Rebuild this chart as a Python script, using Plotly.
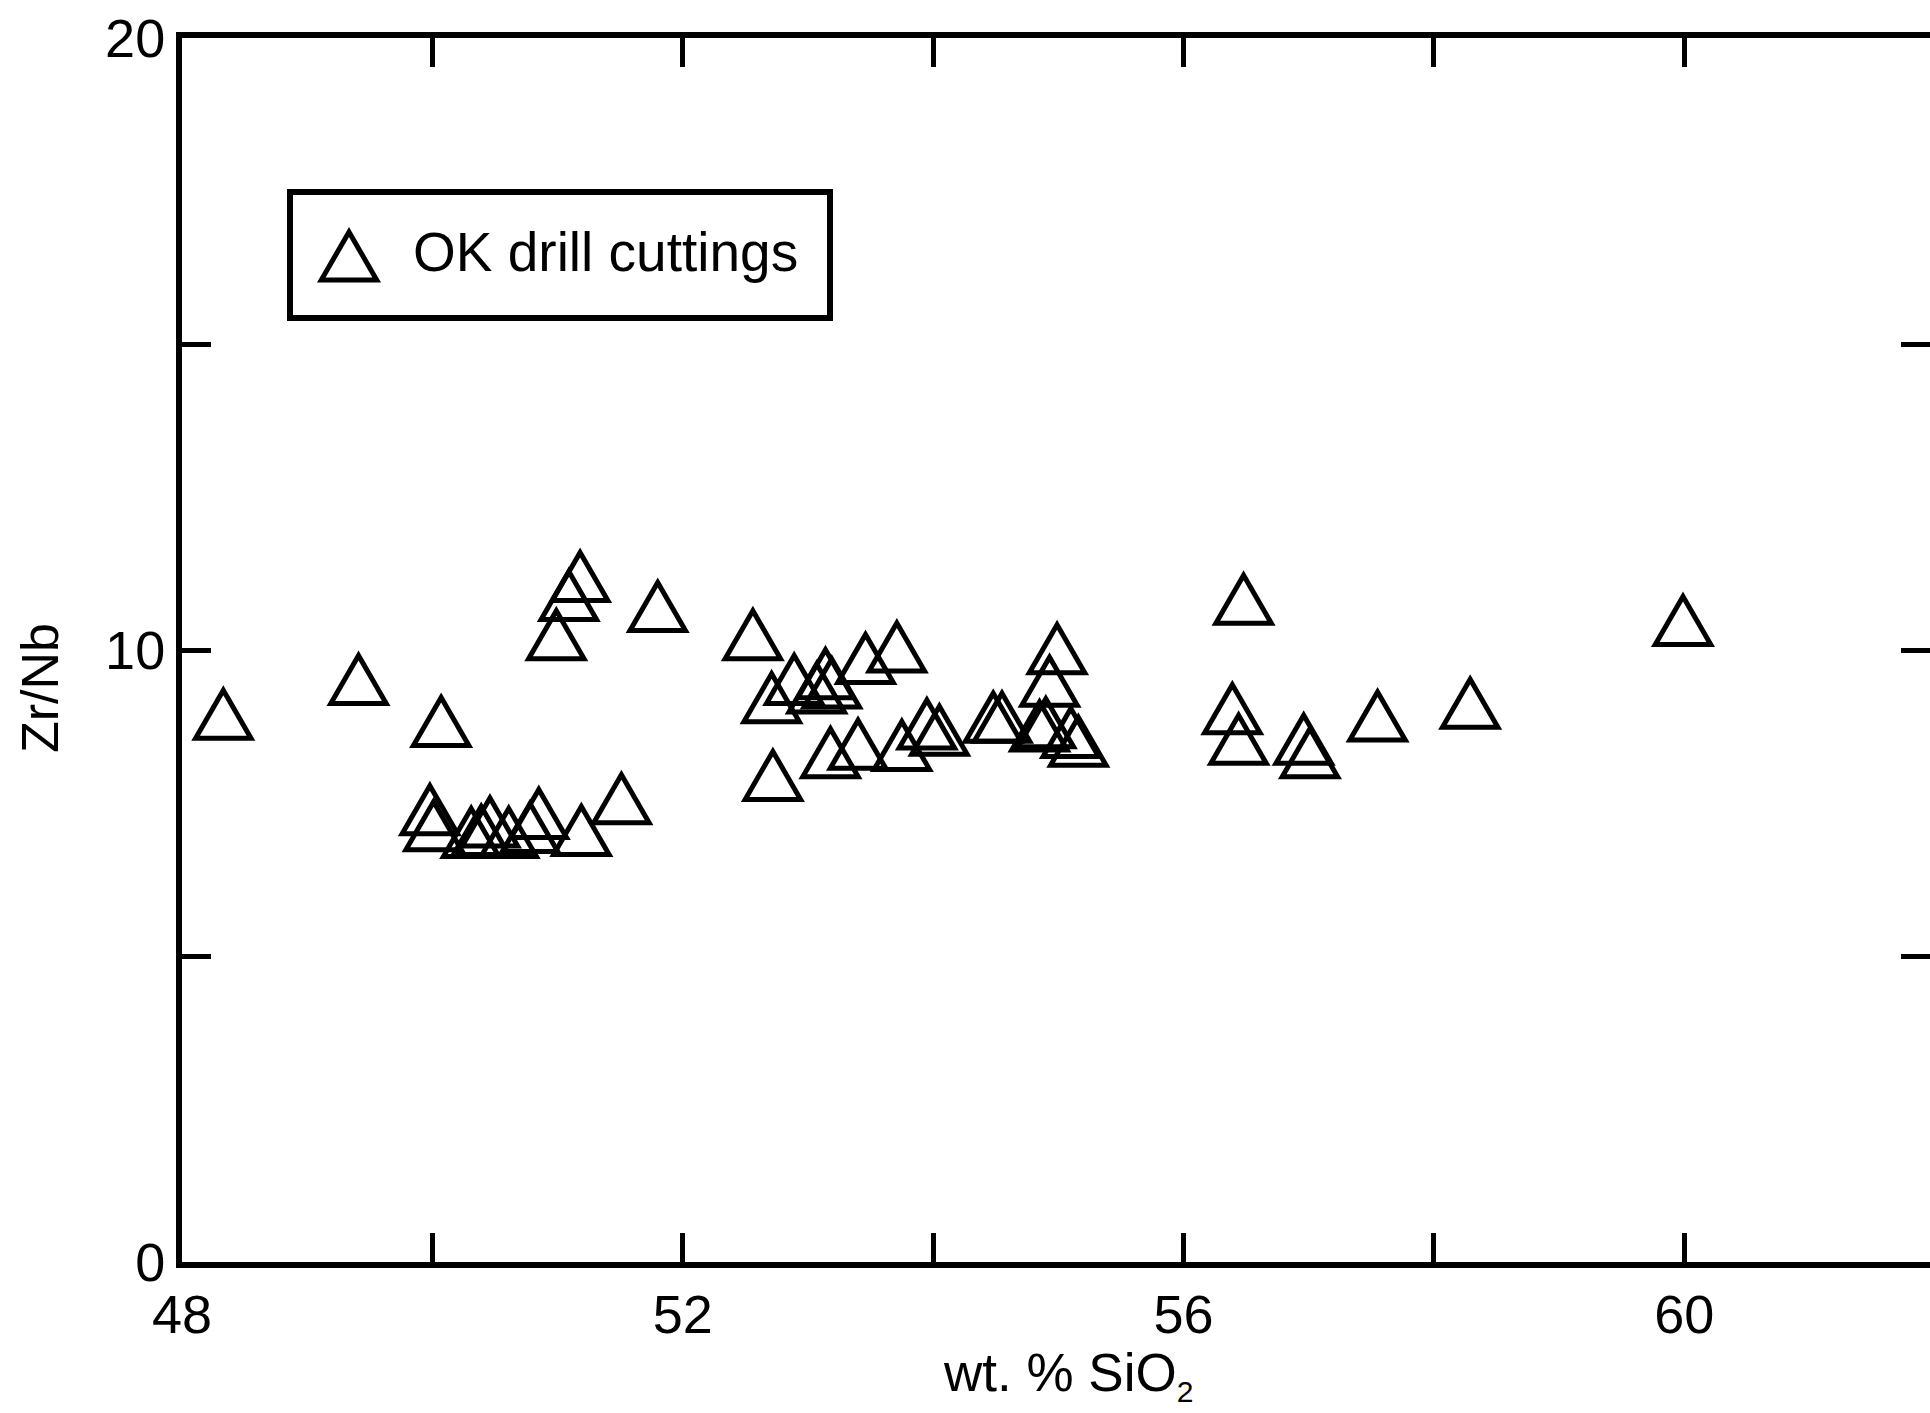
import plotly.graph_objects as go

# ---- data ----
sio2 = [48.33, 49.41, 50.07,
        51.18, 51.09, 50.99, 51.80,
        49.98, 50.01, 50.31, 50.39, 50.46, 50.61, 50.78, 50.85, 51.19, 51.51,
        52.56, 52.71, 52.89, 53.07, 53.14, 53.19, 53.46, 53.71,
        52.72, 53.18, 53.40, 53.75, 53.95, 54.05,
        54.48, 54.55, 54.99, 54.93, 54.90, 54.85, 55.16, 55.10,
        56.48, 59.99, 56.39, 56.44, 56.96, 57.01, 57.55, 58.29]
zr_nb = [8.95, 9.52, 8.83,
         11.20, 10.89, 10.25, 10.71,
         7.39, 7.13, 7.02, 7.05, 7.19, 7.02, 7.10, 7.33, 7.05, 7.57,
         10.25, 9.22, 9.52, 9.38, 9.61, 9.46, 9.86, 10.05,
         7.95, 8.32, 8.46, 8.44, 8.79, 8.69,
         8.90, 8.90, 10.02, 9.49, 8.81, 8.76, 8.51, 8.65,
         10.83, 10.48, 9.04, 8.54, 8.54, 8.32, 8.92, 9.13]

x_tickvals = [48, 52, 56, 60]
x_ticktext = ["48", "52", "56", "60"]
y_tickvals = [0, 10, 20]
y_ticktext = ["0", "10", "20"]
series_name = "OK drill cuttings"

FONT = "Liberation Sans, Arial, Helvetica, sans-serif"
W, H = 1930, 1413
ML, MR, MT, MB = 182, 0, 38, 151
X_MIN, X_MAX = 48, 61.963
Y_MIN, Y_MAX = 0, 20

# equilateral open triangle (pixel offsets around the anchor point)
HW, HH = 27.7, 24.0
TRI = f"M{-HW},{-HH} L{HW},{-HH} L0,{HH} Z"

fig = go.Figure()
fig.add_trace(go.Scatter(
    x=sio2, y=zr_nb, mode="markers", name=series_name,
    marker=dict(symbol="triangle-up-open", size=40, color="rgba(0,0,0,0)"),
    showlegend=False,
    hovertemplate="SiO2 %{x}<br>Zr/Nb %{y}<extra></extra>",
))

shapes = []
for xv, yv in zip(sio2, zr_nb):
    shapes.append(dict(type="path", xref="x", yref="y",
                       xsizemode="pixel", ysizemode="pixel",
                       xanchor=xv, yanchor=yv, path=TRI,
                       line=dict(color="black", width=5),
                       fillcolor="rgba(0,0,0,0)"))

# manual legend box
plot_w = W - ML - MR
plot_h = H - MT - MB
def px(xp):
    return (xp - ML) / plot_w
def py(yp):
    return (H - MB - yp) / plot_h

shapes.append(dict(type="rect", xref="paper", yref="paper",
                   x0=px(290), x1=px(830), y0=py(318), y1=py(192),
                   line=dict(color="black", width=6), fillcolor="white",
                   layer="above"))
shapes.append(dict(type="path", xref="paper", yref="paper",
                   xsizemode="pixel", ysizemode="pixel",
                   xanchor=px(349), yanchor=py(256), path=TRI,
                   line=dict(color="black", width=5),
                   fillcolor="rgba(0,0,0,0)"))

annotations = [
    dict(text=series_name, xref="paper", yref="paper", x=px(411), y=py(252),
         xanchor="left", yanchor="middle", showarrow=False,
         font=dict(family=FONT, size=55, color="black")),
    dict(text="Zr/Nb", xref="paper", yref="paper", x=px(40), y=py(688),
         xanchor="center", yanchor="middle", textangle=-90, showarrow=False,
         font=dict(family=FONT, size=52, color="black")),
    dict(text="wt. % SiO<sub><span style='font-size:30px'>2</span></sub>",
         xref="paper", yref="paper",
         x=px(1068), y=py(1375), xanchor="center", yanchor="middle",
         showarrow=False, font=dict(family=FONT, size=53, color="black")),
]

tick_common = dict(ticks="inside", ticklen=29, tickwidth=5, tickcolor="black")
minor_common = dict(ticks="inside", ticklen=29, tickwidth=5, tickcolor="black",
                    showgrid=False)

fig.update_layout(
    width=W, height=H,
    margin=dict(l=ML, r=MR, t=MT, b=MB, pad=0),
    paper_bgcolor="white", plot_bgcolor="white",
    showlegend=False,
    font=dict(family=FONT, size=54, color="black"),
    shapes=shapes, annotations=annotations,
    xaxis=dict(range=[X_MIN, X_MAX], tickvals=x_tickvals, ticktext=x_ticktext,
               minor=dict(dtick=2, tick0=48, **minor_common),
               showline=True, linewidth=6, linecolor="black", mirror="ticks",
               showgrid=False, zeroline=False,
               tickfont=dict(family=FONT, size=54, color="black"), **tick_common),
    yaxis=dict(range=[Y_MIN, Y_MAX], tickvals=y_tickvals, ticktext=y_ticktext,
               minor=dict(dtick=5, tick0=0, **minor_common),
               showline=True, linewidth=6, linecolor="black", mirror=False,
               showgrid=False, zeroline=False,
               tickfont=dict(family=FONT, size=54, color="black"), **tick_common),
    yaxis2=dict(range=[Y_MIN, Y_MAX], overlaying="y", side="right",
                tickvals=[5, 10, 15], showticklabels=False, showline=False,
                showgrid=False, zeroline=False, **tick_common),
)
fig.add_trace(go.Scatter(x=[None], y=[None], yaxis="y2", showlegend=False,
                         hoverinfo="skip"))

fig.write_html("out.html")
